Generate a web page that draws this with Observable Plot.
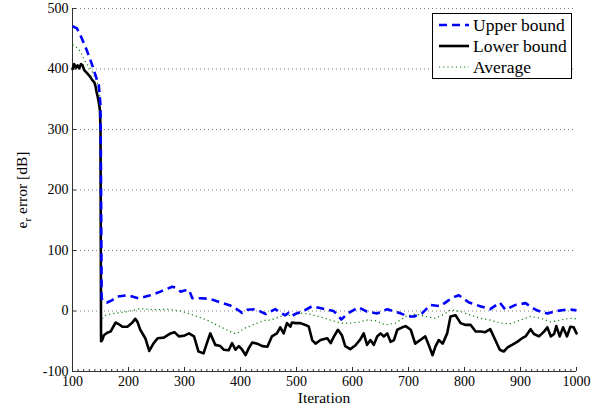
<!DOCTYPE html>
<html><head><meta charset="utf-8">
<script src="https://cdn.jsdelivr.net/npm/d3@7"></script>
<script src="https://cdn.jsdelivr.net/npm/@observablehq/plot@0.6"></script>
<style>
body{margin:0;background:#fff}
#chart{position:relative;width:603px;height:410px}
</style>
</head><body><div id="chart"></div>
<script>
// ---- data ----
const seriesNames = ["Upper bound", "Lower bound", "Average"];
const xLabel = "Iteration";
const xTicks = [100, 200, 300, 400, 500, 600, 700, 800, 900, 1000];
const yTicks = [-100, 0, 100, 200, 300, 400, 500];

const upperIter = [100,108,114,123,132,141,147,150,151,152,156,162,171,180,198,218,239,257,270,278,286,293,300,308,314,329,346,364,382,395,403,412,427,436,445,462,470,480,486,492,500,510,528,546,566,573,580,593,611,626,644,662,683,700,710,724,739,757,772,784,790,808,828,846,863,873,891,909,927,936,948,965,986,1000];
const upperVal  = [471,467,456,437,415,390,373,340,200,21,15,14,18,24,26,21,26,32,37,40,38,32,34,35,21,21,20,14,9,2,-3,2,3,-1,-5,3,-2,-7,-3,-8,-4,-1,8,4,0,-6,-14,-3,6,-1,-4,3,-3,-9,-9,-4,10,8,18,24,26,14,8,3,14,2,10,13,2,-1,-4,0,3,1];

const lowerIter = [100,103,106,109,112,115,118,121,126,131,135,139,141,143,145,147,149,150,151,153,156,162,168,177,183,189,198,206,212,216,221,230,237,245,252,263,275,282,290,299,308,317,325,334,340,346,355,364,370,379,385,391,397,403,409,415,421,430,439,448,456,465,471,477,483,489,492,498,507,516,522,528,534,543,555,561,567,574,581,587,596,605,614,620,626,632,638,644,650,656,662,668,674,680,689,695,704,712,721,730,736,743,748,754,761,769,775,784,793,802,811,820,829,837,846,855,863,870,877,885,894,903,909,918,924,933,942,948,954,960,964,970,976,983,989,995,1000];
const lowerVal  = [400,408,402,406,401,408,406,398,393,388,382,378,372,362,354,345,332,300,-50,-48,-40,-36,-34,-19,-22,-26,-26,-20,-13,-18,-31,-45,-66,-53,-45,-44,-37,-35,-42,-41,-37,-42,-67,-70,-53,-37,-56,-58,-64,-65,-53,-64,-58,-64,-73,-61,-52,-54,-58,-59,-42,-37,-27,-37,-20,-26,-19,-20,-20,-23,-26,-48,-54,-48,-45,-53,-42,-31,-40,-58,-63,-57,-47,-37,-56,-48,-56,-42,-37,-42,-37,-51,-48,-31,-27,-25,-31,-54,-48,-42,-56,-73,-59,-48,-54,-37,-9,-7,-20,-23,-23,-34,-34,-35,-30,-48,-64,-67,-60,-56,-51,-45,-42,-30,-38,-42,-34,-27,-42,-38,-25,-42,-27,-42,-26,-27,-37];

const avgIter = [100,106,114,123,135,144,149,150,151,159,174,198,221,245,269,293,317,340,364,388,394,406,427,445,454,471,489,504,522,540,561,579,596,614,623,641,659,677,695,712,730,748,766,775,793,811,829,846,864,882,900,918,936,954,971,989,1000];
const avgVal  = [440,437,429,412,396,379,354,300,-15,-7,-4,-1,4,2,3,0,-7,-15,-26,-37,-37,-29,-21,-15,-15,-9,-7,-3,-5,-9,-15,-20,-20,-18,-15,-16,-23,-20,-9,-5,-9,-12,-4,2,-1,-7,-12,-15,-20,-21,-15,-9,-12,-18,-15,-12,-13];

// ---- styles ----
const styles = [
  {stroke: "#0000ff", strokeWidth: 2.6, strokeDasharray: "8,5", strokeLinecap: "butt"},
  {stroke: "#000000", strokeWidth: 2.6},
  {stroke: "#008000", strokeWidth: 1.2, strokeDasharray: "1.2,3", strokeLinecap: "butt"}
];
const FONT = "'Liberation Serif','Times New Roman',serif";

const rows = (it, v) => it.map((x, i) => ({x, y: v[i]}));
const data = [rows(upperIter, upperVal), rows(lowerIter, lowerVal), rows(avgIter, avgVal)];
const minorTicks = d3.range(100, 1001, 10).filter(v => v % 100 !== 0);

const plot = Plot.plot({
  width: 603, height: 410,
  marginTop: 8, marginBottom: 39, marginLeft: 72, marginRight: 27,
  style: {fontFamily: FONT, fontSize: "14px", color: "#000", background: "#fff", overflow: "visible"},
  x: {domain: [100, 1000], label: null},
  y: {domain: [-100, 500], label: null},
  marks: [
    Plot.gridY(yTicks, {stroke: "#808080", strokeOpacity: 1, strokeWidth: 1, strokeDasharray: "1,3"}),
    Plot.axisX(minorTicks, {tickSize: -2, tickFormat: () => "", label: null, stroke: "#333"}),
    Plot.axisX(xTicks, {tickSize: -4, tickPadding: 9, label: null, stroke: "#333", fontSize: 14, tickFormat: d => String(d)}),
    Plot.axisY(yTicks, {tickSize: -4, tickPadding: 8, label: null, stroke: "#333", fontSize: 14, tickFormat: d => String(d)}),
    Plot.ruleX([100], {stroke: "#333"}),
    Plot.ruleY([-100], {stroke: "#333"}),
    Plot.line(data[2], {x: "x", y: "y", ...styles[2]}),
    Plot.line(data[1], {x: "x", y: "y", ...styles[1]}),
    Plot.line(data[0], {x: "x", y: "y", ...styles[0]})
  ]
});
document.getElementById("chart").appendChild(plot);

const svg = d3.select(plot);
// x label
svg.append("text").attr("x", 324).attr("y", 403).attr("text-anchor", "middle")
  .style("font-family", FONT).style("font-size", "15.5px").attr("fill", "#000").text(xLabel);
// y label with subscript
const yl = svg.append("text").attr("transform", "translate(27,190) rotate(-90)")
  .attr("text-anchor", "middle").style("font-family", FONT).style("font-size", "15.5px").attr("fill", "#000");
yl.append("tspan").text("e");
yl.append("tspan").attr("dy", 4).style("font-size", "11px").text("r");
yl.append("tspan").attr("dy", -4).text(" error [dB]");

// legend
const lg = svg.append("g").attr("text-anchor", "start");
lg.append("rect").attr("x", 432.5).attr("y", 13.5).attr("width", 139).attr("height", 65)
  .attr("fill", "#fff").attr("stroke", "#000").attr("stroke-width", 1);
const rowY = [25, 46, 67];
seriesNames.forEach((name, i) => {
  const s = styles[i];
  lg.append("line").attr("x1", 439).attr("x2", 469).attr("y1", rowY[i]).attr("y2", rowY[i])
    .attr("stroke", s.stroke).attr("stroke-width", s.strokeWidth)
    .attr("stroke-dasharray", s.strokeDasharray || null);
  lg.append("text").attr("x", 473).attr("y", rowY[i] + 6).attr("text-anchor", "start")
    .style("font-family", FONT).style("font-size", "17.5px").attr("fill", "#000").text(name);
});
</script>
</body></html>
